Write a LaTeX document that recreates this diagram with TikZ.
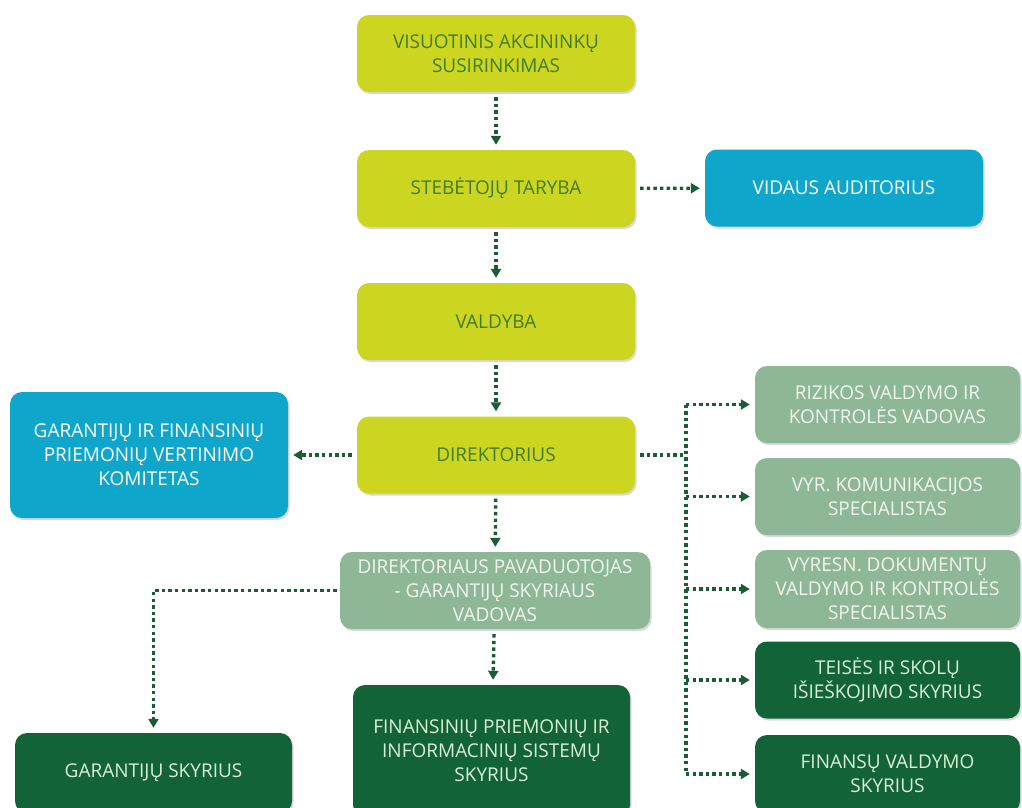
\documentclass[tikz,border=0pt]{standalone}
\usepackage{fontspec}
\setmainfont{Open Sans}
\usetikzlibrary{arrows.meta,shadows}

\definecolor{limefill}{RGB}{204,214,32}
\definecolor{limetext}{RGB}{66,124,34}
\definecolor{bluefill}{RGB}{14,166,202}
\definecolor{sagefill}{RGB}{141,183,150}
\definecolor{sagetext}{RGB}{240,247,236}
\definecolor{darkfill}{RGB}{18,99,56}
\definecolor{darktext}{RGB}{218,240,214}
\definecolor{linkgreen}{RGB}{26,92,52}

\begin{document}
\begin{tikzpicture}[
        x=1pt, y=-1pt,
        box/.style={rectangle, rounded corners=12pt, minimum width=278pt, minimum height=77pt, inner sep=2pt, align=center, text centered, font=\fontsize{19}{24}\selectfont, drop shadow={shadow xshift=1.5pt, shadow yshift=-2pt, opacity=0.3}},
        board/.style={box, fill=limefill, text=limetext},
        audit/.style={box, fill=bluefill, text=white},
        staff/.style={box, fill=sagefill, text=sagetext},
        dept/.style={box, fill=darkfill, text=darktext},
        link/.style={draw=linkgreen, line width=3.4pt, dash pattern=on 3.4pt off 3.2pt},
        arrow/.style={link, -{Triangle[length=9pt,width=10pt]}, shorten <=5pt, shorten >=5pt}
    ]
        \useasboundingbox (0,0) rectangle (1022,807);

        % Governing bodies
        \node[board] (meeting) at (496,53.5) {VISUOTINIS AKCININKŲ\\SUSIRINKIMAS};
        \node[board] (council) at (496,188.5) {STEBĖTOJŲ TARYBA};
        \node[audit] (auditor) at (844,188) {VIDAUS AUDITORIUS};
        \node[board] (boardm) at (496,321.5) {VALDYBA};
        \node[board] (director) at (496,455) {DIREKTORIUS};
        \node[audit, minimum height=126pt] (committee) at (149,455) {GARANTIJŲ IR FINANSINIŲ\\PRIEMONIŲ VERTINIMO\\KOMITETAS};

        % Deputy and departments
        \node[staff, minimum width=310pt] (deputy) at (495,590.5) {DIREKTORIAUS PAVADUOTOJAS\\- GARANTIJŲ SKYRIAUS\\VADOVAS};
        \node[dept, minimum width=277pt, minimum height=132pt] (infosys) at (491.5,751) {FINANSINIŲ PRIEMONIŲ IR\\INFORMACINIŲ SISTEMŲ\\SKYRIUS};
        \node[dept, minimum width=277pt, minimum height=80pt] (guarantee) at (153.5,773) {GARANTIJŲ SKYRIUS};

        % Staff reporting to the director
        \coordinate (bus) at (686,455);
        \node[staff, minimum width=265pt] (risk) at (887.5,404.5) {RIZIKOS VALDYMO IR\\KONTROLĖS VADOVAS};
        \node[staff, minimum width=265pt] (comms) at (887.5,496.5) {VYR. KOMUNIKACIJOS\\SPECIALISTAS};
        \node[staff, minimum width=265pt, minimum height=78pt] (docs) at (887.5,589) {VYRESN. DOKUMENTŲ\\VALDYMO IR KONTROLĖS\\SPECIALISTAS};
        \node[dept, minimum width=265pt] (legal) at (887.5,680) {TEISĖS IR SKOLŲ\\IŠIEŠKOJIMO SKYRIUS};
        \node[dept, minimum width=265pt, minimum height=78pt] (finance) at (887.5,774) {FINANSŲ VALDYMO\\SKYRIUS};

        % Arrows
        \draw[arrow] (meeting) -- (council);
        \draw[arrow] (council) -- (boardm);
        \draw[arrow] (council) -- (auditor);
        \draw[arrow] (boardm) -- (director);
        \draw[arrow] (director) -- (committee);
        \draw[arrow] (director) -- (deputy);
        \draw[arrow] (deputy) -- (infosys);
        \draw[arrow, shorten <=3pt] (deputy.west) -| (guarantee.north);
        \draw[link, shorten <=5pt] (director.east) -- (bus);
        \draw[link] (bus |- risk) -- (bus |- finance);
        \foreach \n in {risk, comms, docs, legal, finance}
            \draw[arrow, shorten <=0pt] (bus |- \n) -- (\n.west);

    \end{tikzpicture}
\end{document}
